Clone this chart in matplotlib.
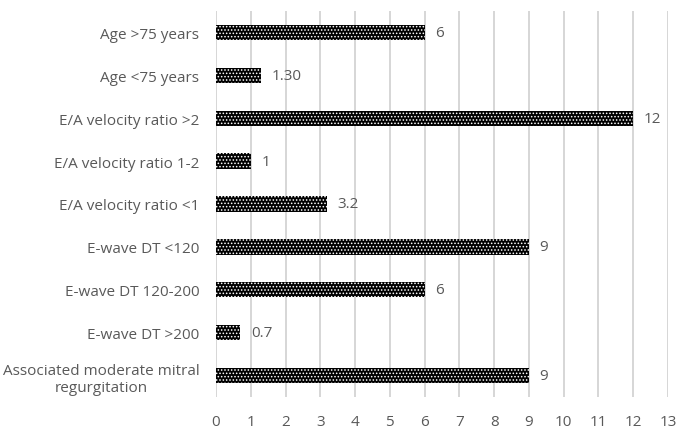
import matplotlib.pyplot as plt

categories = ["Age >75 years", "Age <75 years", "E/A velocity ratio >2",
              "E/A velocity ratio 1-2", "E/A velocity ratio <1", "E-wave DT <120",
              "E-wave DT 120-200", "E-wave DT >200",
              "Associated moderate mitral\nregurgitation"]
values = [6, 1.30, 12, 1, 3.2, 9, 6, 0.7, 9]
value_labels = ["6", "1.30", "12", "1", "3.2", "9", "6", "0.7", "9"]

plt.rcParams['font.family'] = ['Open Sans', 'DejaVu Sans']
plt.rcParams['hatch.linewidth'] = 0.7
grey = '#595959'
fs = 11

fig = plt.figure(figsize=(6.87, 4.39), dpi=100)
ax = fig.add_axes([216 / 687, 1 - 398 / 439, (668 - 216) / 687, (398 - 12) / 439])

pos = list(range(len(categories)))
ax.barh(pos, values, height=0.36, color='black', edgecolor='white',
        linewidth=0, hatch='.....', zorder=3)
for p, v, s in zip(pos, values, value_labels):
    ax.text(v + 0.3, p, s, va='center', ha='left', fontsize=fs, color=grey)

ax.set_yticks(pos)
ax.set_yticklabels(categories, fontsize=fs, color=grey, ha='right',
                   multialignment='center')
ax.tick_params(axis='y', length=0, pad=12)
ax.set_ylim(8.5, -0.5)
ax.set_xlim(0, 13)
ax.set_xticks(range(14))
ax.tick_params(axis='x', length=0, labelsize=fs, labelcolor=grey, pad=12)
ax.grid(axis='x', color='#d0d0d0', linewidth=1.2, zorder=0)
for sp in ax.spines.values():
    sp.set_visible(False)

fig.savefig('out.png', dpi=100)
